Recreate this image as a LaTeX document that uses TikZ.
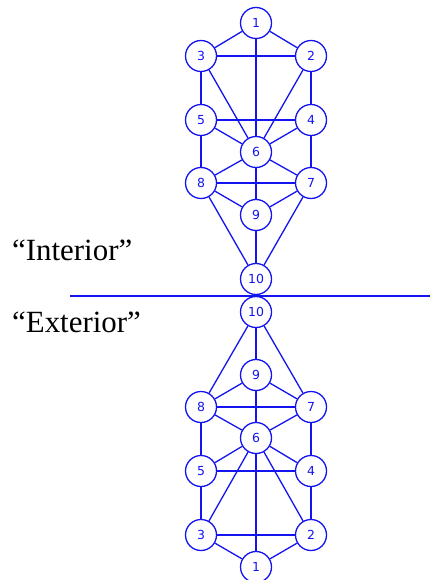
\documentclass[tikz,border=0pt]{standalone}
\usepackage{fontspec}
\setmainfont{Liberation Serif}
\newfontfamily\digitfont{DejaVu Sans}
\definecolor{treeblue}{RGB}{20,20,240}

\begin{document}
\begin{tikzpicture}[x=1bp, y=-1bp,
    sephira/.style={circle, draw=treeblue, line width=1.3bp, minimum size=31bp, inner sep=0pt,
        text=treeblue, font=\digitfont\fontsize{12.5}{14}\selectfont},
    link/.style={draw=treeblue, line width=1.3bp}]
\useasboundingbox (0, 0) rectangle (430, 580);
% upper tree
\node[sephira] (up1) at (256, 23){1};
\node[sephira] (up3) at (201, 56){3};
\node[sephira] (up2) at (311, 56){2};
\node[sephira] (up5) at (201, 120){5};
\node[sephira] (up4) at (311, 120){4};
\node[sephira] (up6) at (256, 152){6};
\node[sephira] (up8) at (201, 183){8};
\node[sephira] (up7) at (311, 183){7};
\node[sephira] (up9) at (256, 215){9};
\node[sephira] (up10) at (256, 279){10};
% lower tree
\node[sephira] (lo10) at (256, 312){10};
\node[sephira] (lo9) at (256, 375){9};
\node[sephira] (lo8) at (201, 407){8};
\node[sephira] (lo7) at (311, 407){7};
\node[sephira] (lo6) at (256, 438){6};
\node[sephira] (lo5) at (201, 471){5};
\node[sephira] (lo4) at (311, 471){4};
\node[sephira] (lo3) at (201, 535){3};
\node[sephira] (lo2) at (311, 535){2};
\node[sephira] (lo1) at (256, 567){1};
% labels and divider
\node[anchor=base west, font=\fontsize{31}{35}\selectfont, inner sep=0pt] (inside) at (12, 260){“Interior”};
\node[anchor=base west, font=\fontsize{31}{35}\selectfont, inner sep=0pt] (outside) at (12, 332){“Exterior”};
\coordinate (divleft) at (70, 296);
\coordinate (divright) at (430, 296);
\draw[link] (divleft) -- (divright);
\draw[link] (up1) -- (up3);
\draw[link] (up1) -- (up2);
\draw[link] (up1) -- (up6);
\draw[link] (up3) -- (up2);
\draw[link] (up3) -- (up5);
\draw[link] (up3) -- (up6);
\draw[link] (up2) -- (up4);
\draw[link] (up2) -- (up6);
\draw[link] (up5) -- (up4);
\draw[link] (up5) -- (up6);
\draw[link] (up4) -- (up6);
\draw[link] (up5) -- (up8);
\draw[link] (up4) -- (up7);
\draw[link] (up6) -- (up8);
\draw[link] (up6) -- (up7);
\draw[link] (up6) -- (up9);
\draw[link] (up8) -- (up7);
\draw[link] (up8) -- (up9);
\draw[link] (up7) -- (up9);
\draw[link] (up8) -- (up10);
\draw[link] (up7) -- (up10);
\draw[link] (up9) -- (up10);
\draw[link] (lo1) -- (lo3);
\draw[link] (lo1) -- (lo2);
\draw[link] (lo1) -- (lo6);
\draw[link] (lo3) -- (lo2);
\draw[link] (lo3) -- (lo5);
\draw[link] (lo3) -- (lo6);
\draw[link] (lo2) -- (lo4);
\draw[link] (lo2) -- (lo6);
\draw[link] (lo5) -- (lo4);
\draw[link] (lo5) -- (lo6);
\draw[link] (lo4) -- (lo6);
\draw[link] (lo5) -- (lo8);
\draw[link] (lo4) -- (lo7);
\draw[link] (lo6) -- (lo8);
\draw[link] (lo6) -- (lo7);
\draw[link] (lo6) -- (lo9);
\draw[link] (lo8) -- (lo7);
\draw[link] (lo8) -- (lo9);
\draw[link] (lo7) -- (lo9);
\draw[link] (lo8) -- (lo10);
\draw[link] (lo7) -- (lo10);
\draw[link] (lo9) -- (lo10);
\end{tikzpicture}
\end{document}
